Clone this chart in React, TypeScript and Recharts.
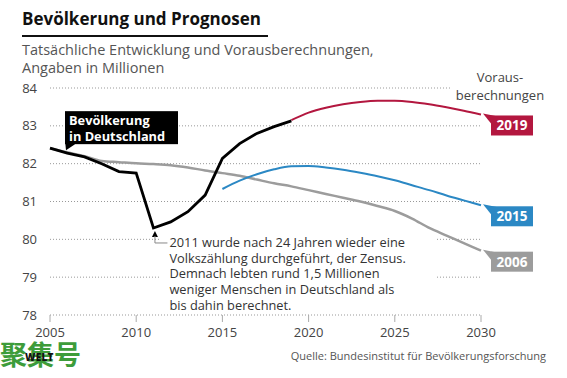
import React from "react"
import { LineChart, Line, XAxis, YAxis, CartesianGrid } from "recharts"

const years = [2005, 2006, 2007, 2008, 2009, 2010, 2011, 2012, 2013, 2014, 2015, 2016, 2017, 2018, 2019, 2020, 2021, 2022, 2023, 2024, 2025, 2026, 2027, 2028, 2029, 2030]
// Bevölkerung 2005-2019
const actual = [82.41, 82.28, 82.18, 82.0, 81.79, 81.75, 80.3, 80.46, 80.73, 81.17, 82.14, 82.53, 82.8, 82.98, 83.13]
// Vorausberechnung 2006 (2005-2030)
const proj2006 = [82.41, 82.3, 82.2, 82.07, 82.04, 82.01, 81.99, 81.96, 81.9, 81.82, 81.75, 81.68, 81.58, 81.48, 81.4, 81.3, 81.2, 81.1, 81.0, 80.88, 80.75, 80.55, 80.3, 80.1, 79.9, 79.7]
// Vorausberechnung 2015 (2015-2030)
const proj2015 = [81.33, 81.55, 81.72, 81.85, 81.93, 81.94, 81.9, 81.84, 81.76, 81.67, 81.56, 81.43, 81.3, 81.16, 81.03, 80.9]
// Vorausberechnung 2019 (2019-2030)
const proj2019 = [83.15, 83.35, 83.48, 83.57, 83.63, 83.66, 83.66, 83.63, 83.57, 83.49, 83.4, 83.3]

const xTicks = [2005, 2010, 2015, 2020, 2025, 2030]
const yTicks = [78, 79, 80, 81, 82, 83, 84]
const noteLines = [
  "2011 wurde nach 24 Jahren wieder eine",
  "Volkszählung durchgeführt, der Zensus.",
  "Demnach lebten rund 1,5 Millionen",
  "weniger Menschen in Deutschland als",
  "bis dahin berechnet.",
]

const data = years.map((year, i) => ({
  year,
  actual: actual[i],
  p2006: proj2006[i],
  p2015: i >= 10 ? proj2015[i - 10] : undefined,
  p2019: i >= 14 ? proj2019[i - 14] : undefined,
}))

const FONT = "'Open Sans', Lato, sans-serif"
const RED = "#b3173f"
const BLUE = "#2b88c4"
const GRAY = "#9c9c9c"

const endTag = (text: string, color: string) => (props: any) => {
  const { x, y, index } = props
  if (index !== years.length - 1 || x == null) return <g />
  return (
    <g>
      <polygon points={`${x + 2},${y - 1} ${x + 17},${y + 2} ${x + 10},${y + 9}`} fill={color} />
      <rect x={x + 10} y={y + 1} width={42} height={20} fill={color} />
      <text x={x + 31} y={y + 16} textAnchor="middle" fill="#fff" fontSize={13.5} fontWeight={700} fontFamily={FONT}>
        {text}
      </text>
    </g>
  )
}

const actualLabel = (props: any) => {
  const { x, y, index } = props
  if (x == null) return <g />
  if (index === 0) {
    return (
      <g>
        <polygon points={`${x + 15},${y - 8} ${x + 25},${y - 4} ${x + 16},${y + 2}`} fill="#000" />
        <rect x={x + 15} y={y - 37} width={113} height={33} fill="#000" />
        <text x={x + 19} y={y - 23.5} fill="#fff" fontSize={12.8} fontWeight={700} fontFamily={FONT}>Bevölkerung</text>
        <text x={x + 19} y={y - 7.5} fill="#fff" fontSize={12.8} fontWeight={700} fontFamily={FONT}>in Deutschland</text>
      </g>
    )
  }
  if (index === 6) {
    return (
      <g>
        <rect x={x + 6} y={y + 6} width={276} height={80} fill="#fff" />
        <polygon points={`${x + 1.5},${y + 3} ${x - 1.5},${y + 9} ${x + 4.5},${y + 9}`} fill="#000" />
        <polyline points={`${x + 1.5},${y + 8} ${x + 1.5},${y + 15} ${x + 14},${y + 15}`} fill="none" stroke="#888" strokeWidth={1} />
        {noteLines.map((t, k) => (
          <text key={k} x={x + 16} y={y + 19 + k * 15.7} fill="#333" fontSize={12.8} fontFamily={FONT}>{t}</text>
        ))}
      </g>
    )
  }
  return <g />
}

export default function App() {
  return (
    <div style={{ position: "absolute", left: 0, top: 0, width: 567, height: 378, background: "#fff", fontFamily: FONT, overflow: "hidden" }}>
      <div style={{ position: "absolute", left: 22, top: 7, fontSize: 17, fontWeight: 700, color: "#111", whiteSpace: "nowrap" }}>
        Bevölkerung und Prognosen
      </div>
      <div style={{ position: "absolute", left: 22, top: 35, width: 246, height: 1.5, background: "#111" }} />
      <div style={{ position: "absolute", left: 22, top: 41, fontSize: 14.5, lineHeight: "18px", color: "#555", whiteSpace: "nowrap" }}>
        Tatsächliche Entwicklung und Vorausberechnungen,<br />Angaben in Millionen
      </div>
      <LineChart width={567} height={378} data={data} margin={{ top: 88, right: 86, bottom: 33, left: 22 }}>
        <CartesianGrid vertical={false} stroke="#999" strokeDasharray="1 2" />
        <XAxis
          dataKey="year"
          type="number"
          domain={[2005, 2030]}
          ticks={xTicks}
          height={30}
          axisLine={false}
          tickSize={7}
          tickLine={{ stroke: "#aaa" }}
          tickMargin={6}
          tick={{ fill: "#444", fontSize: 13, fontFamily: FONT }}
        />
        <YAxis
          domain={[78, 84]}
          ticks={yTicks}
          width={28}
          axisLine={false}
          tickLine={false}
          tickSize={0}
          tickMargin={13}
          tick={{ fill: "#444", fontSize: 13, fontFamily: FONT }}
        />
        <Line dataKey="p2006" type="monotone" stroke={GRAY} strokeWidth={2.5} dot={false} isAnimationActive={false} label={endTag("2006", GRAY)} />
        <Line dataKey="p2015" type="monotone" stroke={BLUE} strokeWidth={2} dot={false} isAnimationActive={false} label={endTag("2015", BLUE)} />
        <Line dataKey="p2019" type="monotone" stroke={RED} strokeWidth={2} dot={false} isAnimationActive={false} label={endTag("2019", RED)} />
        <Line dataKey="actual" type="linear" stroke="#000" strokeWidth={2.8} dot={false} isAnimationActive={false} label={actualLabel} />
      </LineChart>
      <div style={{ position: "absolute", left: 450, top: 68, width: 100, textAlign: "center", fontSize: 13, lineHeight: "18px", color: "#444", background: "#fff" }}>
        Voraus-<br />berechnungen
      </div>
      <div style={{ position: "absolute", left: 0, top: 337, fontSize: 27, fontWeight: 700, color: "#3d9c3a", fontFamily: "'Noto Sans CJK SC', sans-serif", lineHeight: "34px" }}>
        聚集号
      </div>
      <div style={{ position: "absolute", left: 25, top: 350, fontSize: 10, fontWeight: 800, color: "#111", letterSpacing: 0.3 }}>WELT</div>
      <div style={{ position: "absolute", right: 21, top: 348, fontSize: 11, color: "#555", whiteSpace: "nowrap" }}>
        Quelle: Bundesinstitut für Bevölkerungsforschung
      </div>
    </div>
  )
}
